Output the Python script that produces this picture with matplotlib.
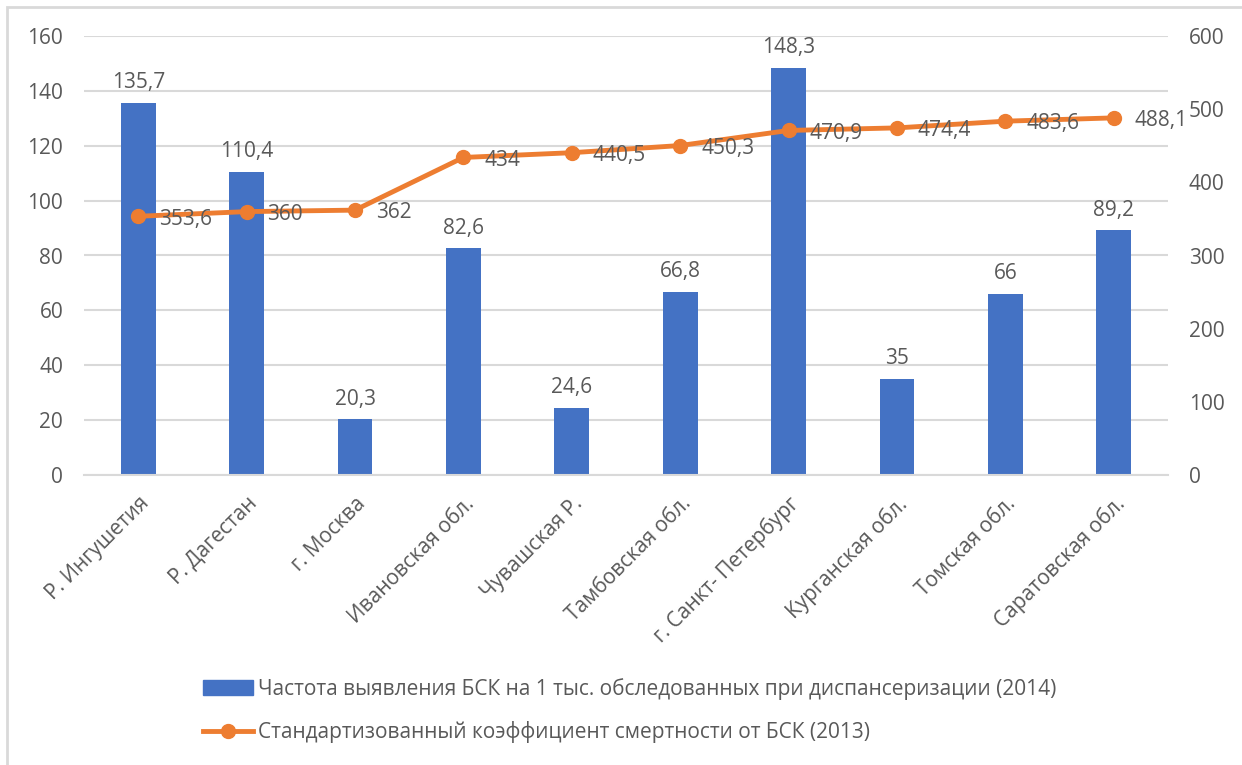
import matplotlib.pyplot as plt
from matplotlib.patches import Rectangle
from matplotlib.lines import Line2D
import numpy as np

plt.rcParams['font.family'] = ['Open Sans', 'DejaVu Sans']

regions = ['Р. Ингушетия', 'Р. Дагестан', 'г. Москва', 'Ивановская обл.', 'Чувашская Р.',
           'Тамбовская обл.', 'г. Санкт- Петербург', 'Курганская обл.', 'Томская обл.',
           'Саратовская обл.']
detection_rate = [135.7, 110.4, 20.3, 82.6, 24.6, 66.8, 148.3, 35, 66, 89.2]
mortality = [353.6, 360, 362, 434, 440.5, 450.3, 470.9, 474.4, 483.6, 488.1]
left_ticks = [0, 20, 40, 60, 80, 100, 120, 140, 160]
right_ticks = [0, 100, 200, 300, 400, 500, 600]

bar_label = 'Частота выявления БСК на 1 тыс. обследованных при диспансеризации (2014)'
line_label = 'Стандартизованный коэффициент смертности от БСК (2013)'

BLUE = '#4472C4'
ORANGE = '#ED7D31'
GRID = '#D9D9D9'
TEXT = '#595959'
FS = 15


def fmt(v):
    s = f'{v:g}'
    return s.replace('.', ',')


W, H = 1242, 765
fig = plt.figure(figsize=(W / 100, H / 100), dpi=100)
fig.patch.set_facecolor('white')

# outer frame
fig.add_artist(Rectangle((7 / W, -0.05), 1.2, 1 - 7 / H + 0.05, transform=fig.transFigure,
                         fill=False, edgecolor='#D9D9D9', linewidth=2))

ax = fig.add_axes([84 / W, 1 - 475 / H, (1168 - 84) / W, (475 - 36) / H])
x = np.arange(len(regions))
ax.bar(x, detection_rate, width=0.32, color=BLUE, zorder=2)
ax.set_xlim(-0.5, len(regions) - 0.5)
ax.set_ylim(0, 160)
ax.set_yticks(left_ticks)
ax.set_yticklabels([str(t) for t in left_ticks])
ax.yaxis.grid(True, color=GRID, linewidth=1.5, zorder=0)
ax.set_axisbelow(True)
for s in ax.spines.values():
    s.set_visible(False)
ax.spines['bottom'].set_visible(True)
ax.spines['bottom'].set_color(GRID)
ax.spines['bottom'].set_linewidth(1.5)
ax.tick_params(axis='y', length=0, labelsize=FS, labelcolor=TEXT, pad=15)
ax.tick_params(axis='x', length=0, labelsize=FS, labelcolor=TEXT, pad=13)
ax.set_xticks(x)
ax.set_xticklabels(regions, rotation=45, ha='right', rotation_mode='anchor')
for xi, v in zip(x, detection_rate):
    ax.annotate(fmt(v), (xi, v), xytext=(0, 7), textcoords='offset points',
                ha='center', va='bottom', fontsize=FS, color=TEXT)

ax2 = ax.twinx()
ax2.plot(x, mortality, color=ORANGE, linewidth=3.5, marker='o', markersize=10, zorder=3)
ax2.set_ylim(0, 600)
ax2.set_yticks(right_ticks)
ax2.set_yticklabels([str(t) for t in right_ticks])
for s in ax2.spines.values():
    s.set_visible(False)
ax2.tick_params(axis='y', length=0, labelsize=FS, labelcolor=TEXT, pad=15)
for xi, v in zip(x, mortality):
    ax2.annotate(fmt(v), (xi, v), xytext=(15, -2), textcoords='offset points',
                 ha='left', va='center', fontsize=FS, color=TEXT)

handles = [Rectangle((0, 0), 1, 1, color=BLUE),
           Line2D([0], [0], color=ORANGE, linewidth=3.5, marker='o', markersize=10)]
fig.legend(handles, [bar_label, line_label], loc='center left',
           bbox_to_anchor=(203 / W, 1 - 710.5 / H), frameon=False, fontsize=FS,
           labelcolor=TEXT, handlelength=2.4, handletextpad=0.25, labelspacing=1.0,
           borderaxespad=0, borderpad=0)

fig.savefig('out.png', dpi=100, facecolor='white')
